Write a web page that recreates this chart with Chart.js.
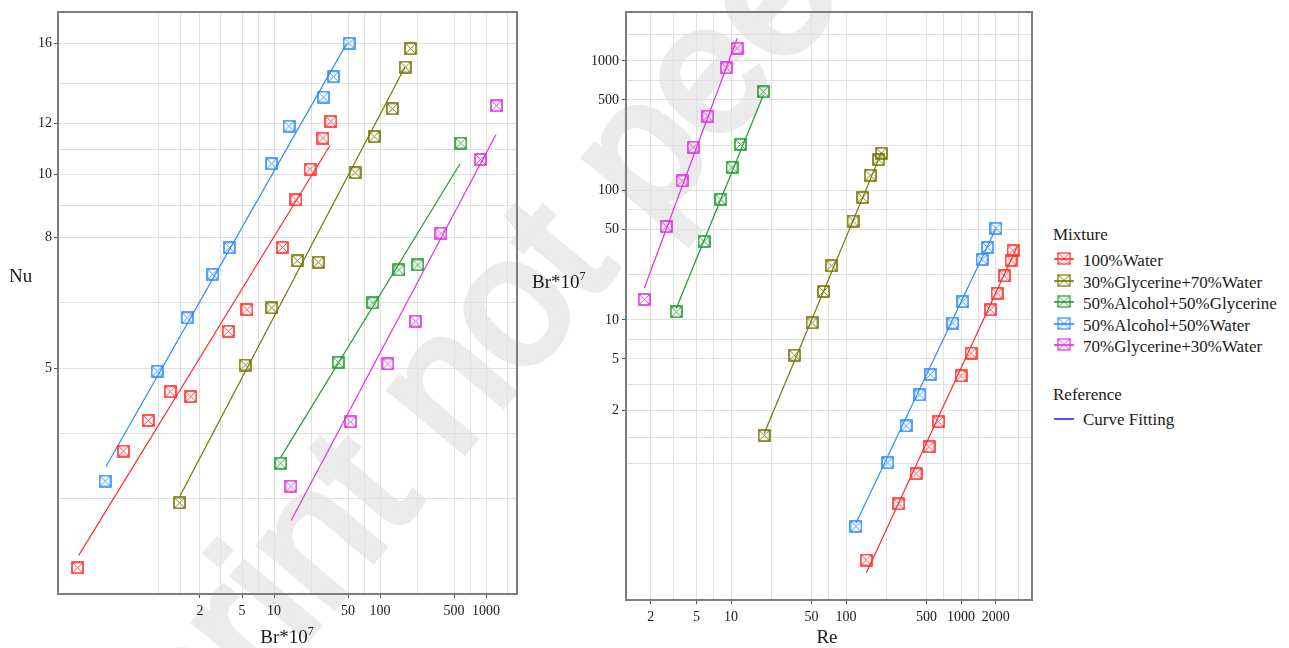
<!DOCTYPE html>
<html>
<head>
<meta charset="utf-8">
<script src="https://cdn.jsdelivr.net/npm/chart.js@4/dist/chart.umd.min.js"></script>
<style>
  html, body { margin: 0; padding: 0; background: #fff; }
  #page { position: relative; width: 1289px; height: 648px; overflow: hidden;
          font-family: "Liberation Serif", "Times New Roman", serif; color: #1a1a1a; }
  #wm { position: absolute; left: 14px; top: 834px; z-index: 0;
        font: 182px "Liberation Sans", Arial, sans-serif; line-height: 1; white-space: nowrap;
        color: #ebebeb; -webkit-text-stroke: 7px #ebebeb;
        transform-origin: 0 154px; transform: rotate(-50deg); }
  canvas { position: absolute; top: 0; z-index: 1; }
  .lbl { position: absolute; z-index: 2; white-space: nowrap; line-height: 1; }
  .ttl { font-size: 19px; }
  .sup { font-size: 12px; position: relative; top: -8px; }
  .leg { font-size: 17px; }
  .sym { position: absolute; z-index: 2; }
</style>
</head>
<body>
<div id="page">
  <div id="wm">Preprint not peer reviewed</div>
  <canvas id="left" width="530" height="648" style="left:0"></canvas>
  <canvas id="right" width="520" height="648" style="left:530px"></canvas>

  <div class="lbl ttl" style="left:9px; top:266px">Nu</div>
  <div class="lbl ttl" style="left:287px; top:627px; transform:translateX(-50%)">Br*10<span class="sup">7</span></div>
  <div class="lbl ttl" style="left:532px; top:272px">Br*10<span class="sup">7</span></div>
  <div class="lbl ttl" style="left:827px; top:627px; transform:translateX(-50%)">Re</div>

  <div id="legend"></div>
</div>

<script>
// Mixtures and their colours
const mixtures = ['100%Water', '30%Glycerine+70%Water', '50%Alcohol+50%Glycerine',
                  '50%Alcohol+50%Water', '70%Glycerine+30%Water'];
const colors = ['#ff2b2b', '#747400', '#1f9a30', '#2a8cff', '#e22ee2'];
const fitLegendColor = '#2424ff';

// Brinkman number (x10^7) per mixture
const brWater      = [0.14, 0.38, 0.65, 1.05, 1.64, 3.7, 5.55, 12.0, 16.1, 21.9, 28.9, 34.3];
const brGly30      = [1.28, 5.35, 9.5, 16.6, 26.2, 58.1, 88.2, 131, 173, 194];
const brAlcGly     = [11.55, 40.4, 85.4, 151, 227, 578];
const brAlcWater   = [0.255, 0.79, 1.52, 2.64, 3.8, 9.47, 13.85, 29.3, 36.35, 51];
const brGly70      = [14.4, 52.7, 118.5, 216, 375, 885, 1255];

// Nusselt number per mixture
const nuWater      = [2.45, 3.72, 4.15, 4.6, 4.52, 5.71, 6.17, 7.71, 9.14, 10.2, 11.4, 12.1];
const nuGly30      = [3.09, 5.06, 6.21, 7.35, 7.31, 10.07, 11.46, 12.66, 14.7, 15.7];
const nuAlcGly     = [3.56, 5.11, 6.32, 7.11, 7.24, 11.2];
const nuAlcWater   = [3.34, 4.95, 5.99, 7.0, 7.7, 10.4, 11.9, 13.2, 14.2, 16.0];
const nuGly70      = [3.28, 4.13, 5.08, 5.92, 8.11, 10.56, 12.8];

// Reynolds number per mixture
const reWater      = [150, 287, 406, 527, 638, 1000, 1222, 1799, 2057, 2383, 2722, 2830];
const reGly30      = [19.4, 35.7, 50.6, 63.8, 74.5, 115, 139.6, 162.5, 192, 203];
const reAlcGly     = [3.34, 5.82, 8.13, 10.2, 12.05, 19.1];
const reAlcWater   = [122, 230, 333, 437, 540, 846, 1033, 1523, 1702, 2013];
const reGly70      = [1.76, 2.73, 3.75, 4.7, 6.27, 9.1, 11.3];

// Fitted curves, Nu vs Br (end points)
const fitNuBrX = [[0.1437, 33.7], [1.3, 172], [11.6, 569], [0.26, 48.5], [14.5, 1242]];
const fitNuBrY = [[2.56, 11.1], [3.17, 14.7], [3.64, 10.4], [3.52, 16.0], [2.90, 11.55]];
// Fitted curves, Br vs Re (end points)
const fitBrReX = [[150, 3070], [19.4, 203], [3.34, 19.1], [122, 2013], [1.76, 11.3]];
const fitBrReY = [[0.111, 36.8], [1.33, 196], [12.3, 546], [0.269, 51], [17.6, 1497]];

// Axis tick values (grid lines) and labelled ticks
const nuPanelXGrid   = [0.805, 1.3, 2, 3.16, 5, 7.07, 10, 22.4, 50, 70.7, 100, 224, 500, 707, 1000, 1580];
const nuPanelXLabels = [2, 5, 10, 50, 100, 500, 1000];
const nuPanelYGrid   = [3.14, 3.96, 5, 6.32, 8, 8.94, 10, 10.95, 12, 13.86, 16];
const nuPanelYLabels = [5, 8, 10, 12, 16];
const rePanelXGrid   = [2, 3.16, 5, 7.07, 10, 22.4, 50, 70.7, 100, 224, 500, 707, 1000, 1414, 2000, 3162];
const rePanelXLabels = [2, 5, 10, 50, 100, 500, 1000, 2000];
const rePanelYGrid   = [0.78, 1.24, 2, 3.16, 5, 7.07, 10, 22.4, 50, 70.7, 100, 224, 500, 707, 1000, 1607];
const rePanelYLabels = [2, 5, 10, 50, 100, 500, 1000];

const brAll = [brWater, brGly30, brAlcGly, brAlcWater, brGly70];
const nuAll = [nuWater, nuGly30, nuAlcGly, nuAlcWater, nuGly70];
const reAll = [reWater, reGly30, reAlcGly, reAlcWater, reGly70];

// Square-with-cross marker
function marker(color) {
  const c = document.createElement('canvas');
  c.width = 13; c.height = 13;
  const g = c.getContext('2d');
  g.strokeStyle = color;
  g.lineWidth = 1.6;
  g.strokeRect(1, 1, 11, 11);
  g.lineWidth = 0.9;
  g.beginPath();
  g.moveTo(1.5, 1.5); g.lineTo(11.5, 11.5);
  g.moveTo(11.5, 1.5); g.lineTo(1.5, 11.5);
  g.stroke();
  return c;
}
const markers = colors.map(marker);

function logAxis(min, max, grid, labels, size, isX, pad) {
  return {
    type: 'logarithmic', min: min, max: max, bounds: 'data',
    afterBuildTicks: s => { s.ticks = grid.map(v => ({ value: v })); },
    afterFit: s => { if (isX) s.height = size; else s.width = size; },
    ticks: {
      autoSkip: false, maxRotation: 0, minRotation: 0, padding: pad,
      color: '#1a1a1a', font: { family: 'Liberation Serif', size: 14 },
      callback: v => labels.includes(v) ? String(v) : ''
    },
    grid: {
      color: '#e0e0e0', lineWidth: 1, tickLength: 4,
      tickColor: c => (c.tick && labels.includes(c.tick.value)) ? '#555' : 'rgba(0,0,0,0)'
    },
    border: { display: false }
  };
}

const framePlugin = {
  id: 'frame',
  beforeDatasetsDraw(chart) {
    const { ctx, chartArea: a } = chart;
    ctx.save();
    ctx.strokeStyle = '#7d7d7d';
    ctx.lineWidth = 2;
    ctx.strokeRect(a.left, a.top, a.right - a.left, a.bottom - a.top);
    ctx.restore();
  }
};

function buildDatasets(xs, ys, fitX, fitY) {
  const sets = [];
  for (let i = 0; i < mixtures.length; i++) {
    sets.push({
      label: mixtures[i],
      data: xs[i].map((x, k) => ({ x: x, y: ys[i][k] })),
      pointStyle: markers[i], showLine: false
    });
    sets.push({
      label: mixtures[i] + ' fit',
      data: fitX[i].map((x, k) => ({ x: x, y: fitY[i][k] })),
      showLine: true, pointRadius: 0, borderColor: colors[i], borderWidth: 1.2, fill: false
    });
  }
  return sets;
}

const common = {
  responsive: false, animation: false, events: [],
  plugins: { legend: { display: false }, tooltip: { enabled: false } }
};

new Chart(document.getElementById('left'), {
  type: 'scatter',
  data: { datasets: buildDatasets(brAll, nuAll, fitNuBrX, fitNuBrY) },
  options: Object.assign({}, common, {
    layout: { padding: { left: 0, top: 12, right: 13, bottom: 0 } },
    scales: {
      x: logAxis(0.0916, 1960, nuPanelXGrid, nuPanelXLabels, 54, true, 5),
      y: logAxis(2.23, 17.9, nuPanelYGrid, nuPanelYLabels, 58, false, 2)
    }
  }),
  plugins: [framePlugin]
});

new Chart(document.getElementById('right'), {
  type: 'scatter',
  data: { datasets: buildDatasets(reAll, brAll, fitBrReX, fitBrReY) },
  options: Object.assign({}, common, {
    layout: { padding: { left: 0, top: 12, right: 18, bottom: 0 } },
    scales: {
      x: logAxis(1.22, 4140, rePanelXGrid, rePanelXLabels, 48, true, 5),
      y: logAxis(0.0688, 2389, rePanelYGrid, rePanelYLabels, 96, false, 3)
    }
  }),
  plugins: [framePlugin]
});

// Legend
const legend = document.getElementById('legend');
function addText(text, left, baseline) {
  const d = document.createElement('div');
  d.className = 'lbl leg';
  d.style.left = left + 'px';
  d.style.top = (baseline - 14) + 'px';
  d.textContent = text;
  legend.appendChild(d);
}
function addSymbol(color, cy, withBox) {
  const ns = 'http://www.w3.org/2000/svg';
  const s = document.createElementNS(ns, 'svg');
  s.setAttribute('class', 'sym');
  s.setAttribute('width', '22'); s.setAttribute('height', '14');
  s.style.left = '1053px'; s.style.top = (cy - 7) + 'px';
  let inner = '<line x1="1" y1="7" x2="21" y2="7" stroke="' + color + '" stroke-width="1.6"/>';
  if (withBox) {
    inner += '<rect x="5" y="1" width="12" height="11" fill="none" stroke="' + color + '" stroke-width="1.2"/>' +
             '<path d="M5 1 L17 12 M17 1 L5 12" stroke="' + color + '" stroke-width="0.8"/>';
  }
  s.innerHTML = inner;
  legend.appendChild(s);
}
addText('Mixture', 1053, 240);
const legendBaselines = [266, 287.5, 309, 330.5, 352];
mixtures.forEach((m, i) => {
  addSymbol(colors[i], legendBaselines[i] - 7, true);
  addText(m, 1083, legendBaselines[i]);
});
addText('Reference', 1053, 400);
addSymbol(fitLegendColor, 419, false);
addText('Curve Fitting', 1083, 425);
</script>
</body>
</html>
